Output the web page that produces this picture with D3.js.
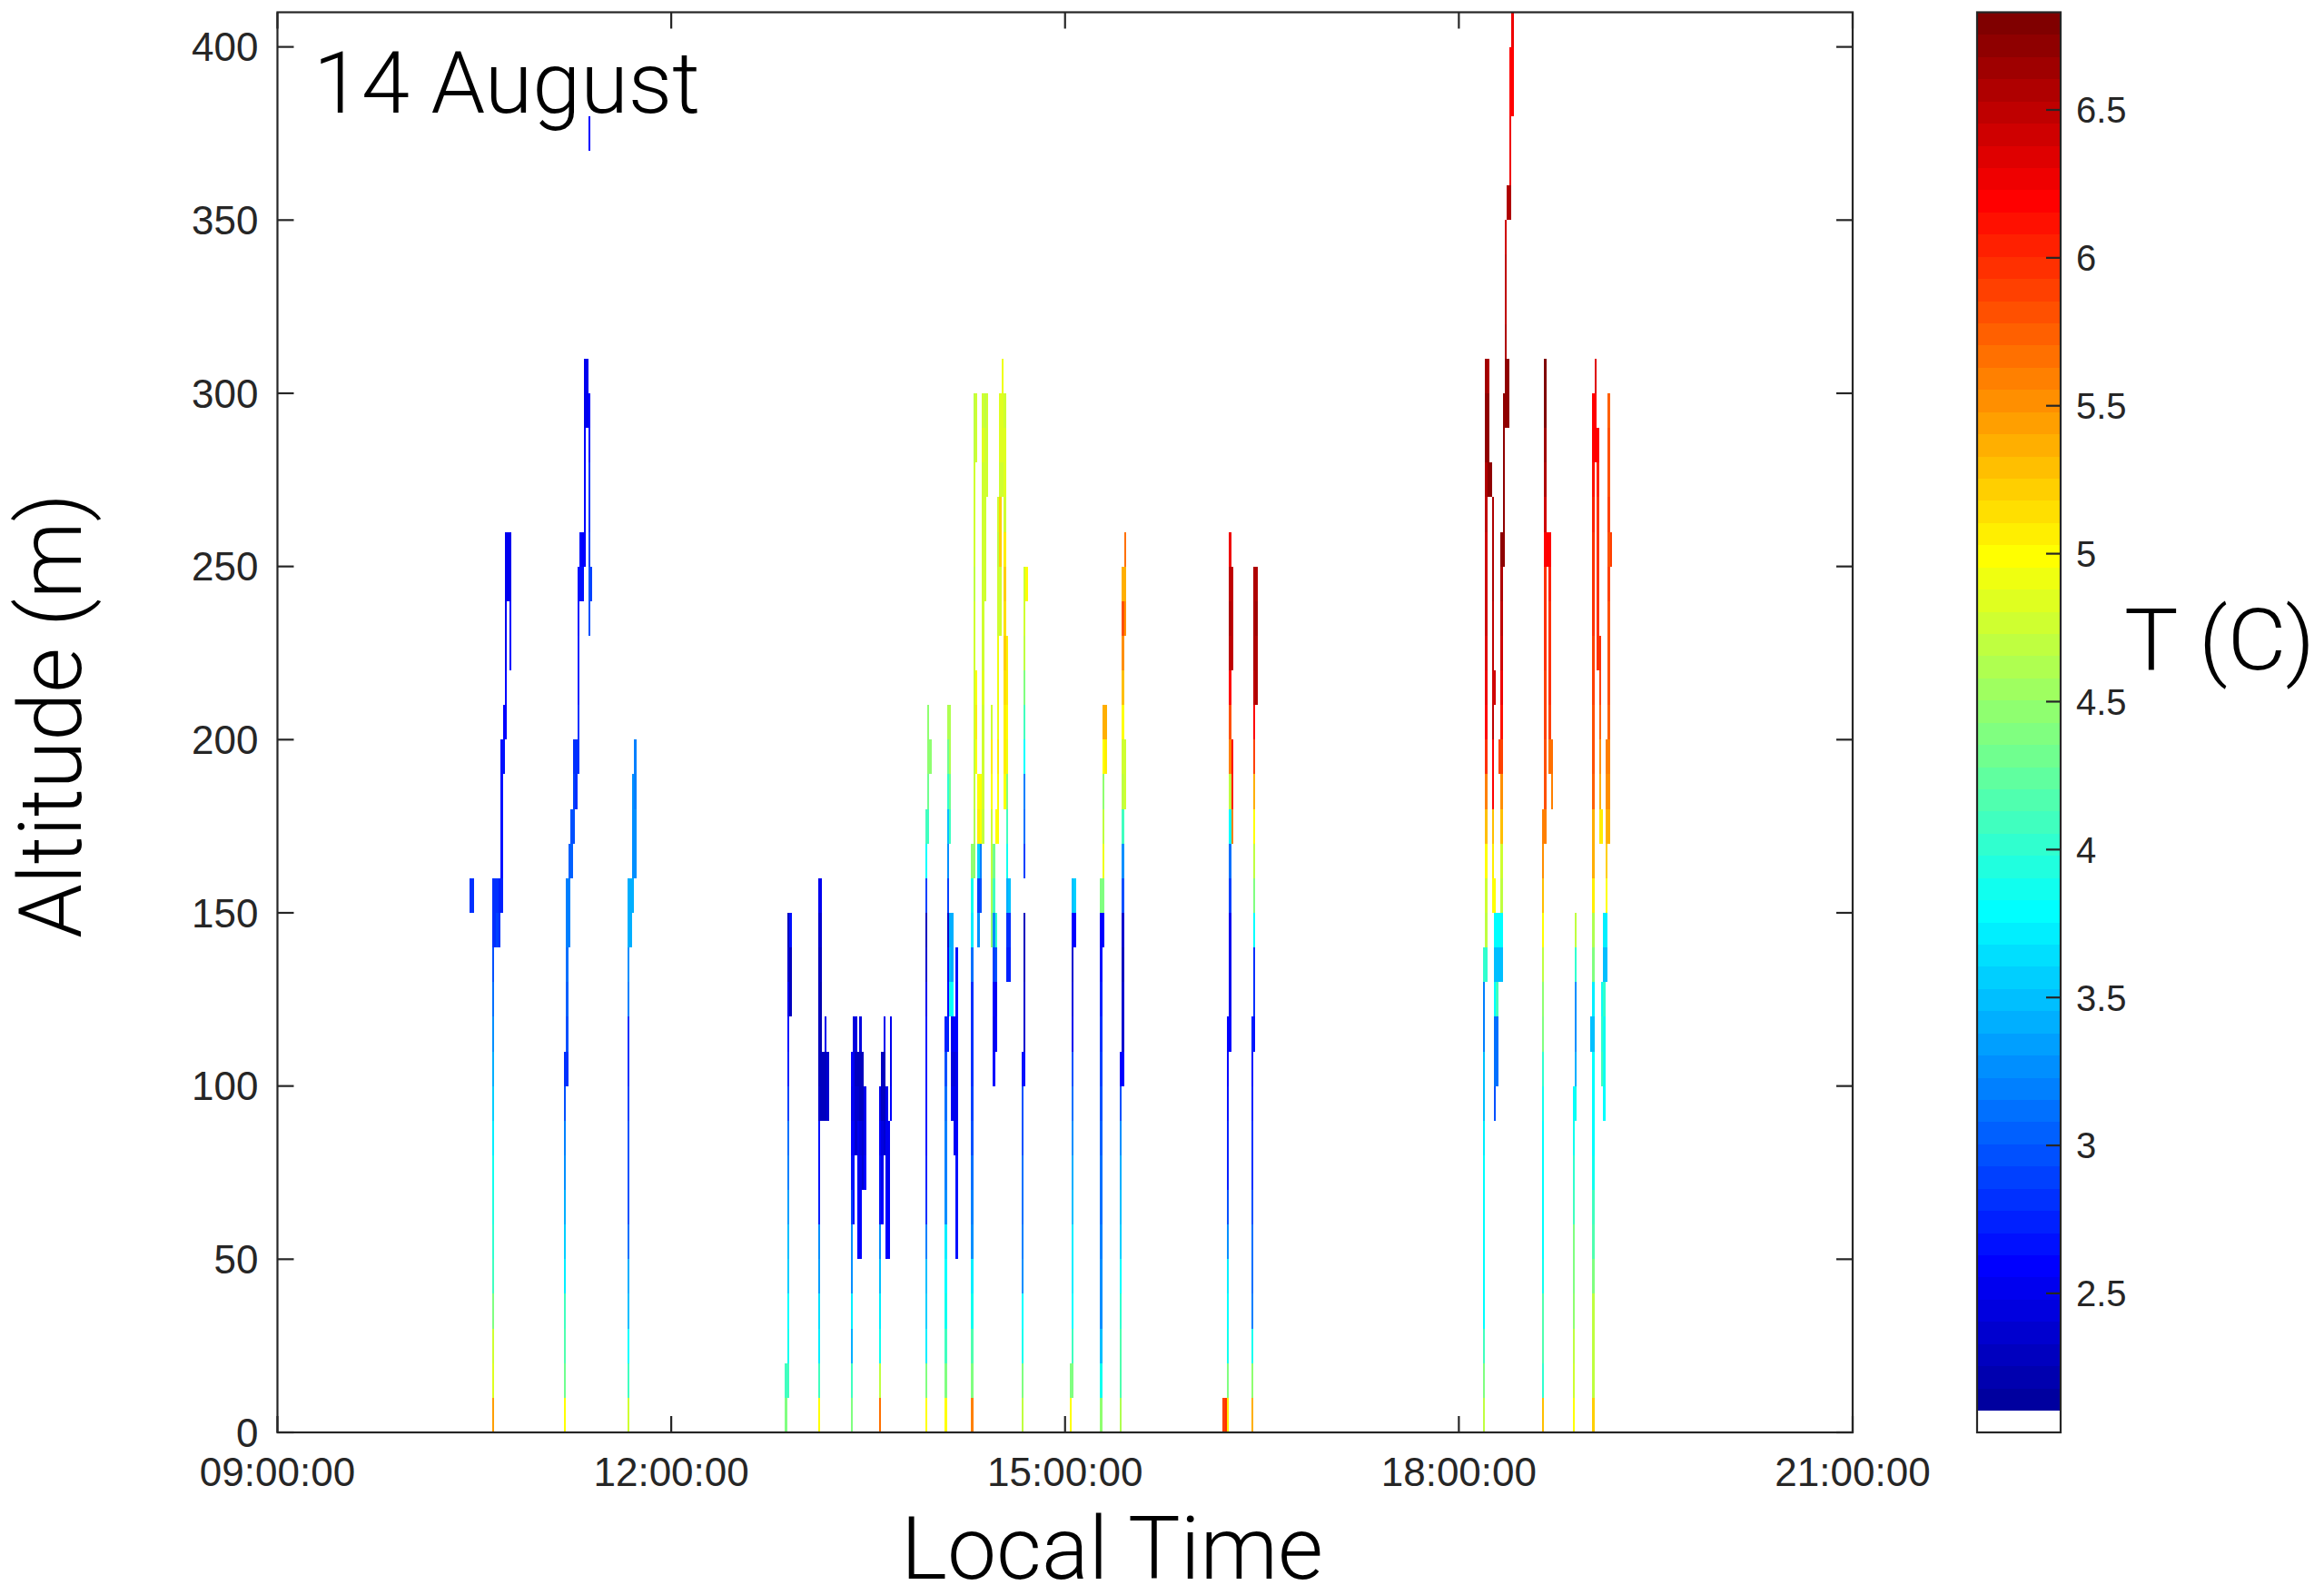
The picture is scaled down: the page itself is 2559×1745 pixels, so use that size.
<!DOCTYPE html>
<html><head><meta charset="utf-8">
<script src="https://cdn.jsdelivr.net/npm/d3@7"></script>
<style>body{margin:0;background:#fff}svg{display:block}</style>
</head><body>
<svg id="chart" width="2559" height="1745"></svg>
<script>
// ---------------- data ----------------
const dayLabel = "14 August";
const xLabel = "Local Time";
const yLabel = "Altitude (m)";
const cbLabel = "T (C)";
const xTicks = ["09:00", "12:00", "15:00", "18:00", "21:00"];
const yTicks = [0, 50, 100, 150, 200, 250, 300, 350, 400];
const cbTicks = [2.5, 3, 3.5, 4, 4.5, 5, 5.5, 6, 6.5];
const timeRange = ["09:00", "21:00"];
const altRange = [0, 410];
const tempRange = [2.03, 6.83];
const altStep = 10;      // altitude bin (m)
const timeStep = 1;      // time bin (min)

// each column: [time, bottom altitude of first bin, temperatures of consecutive 10 m bins]
const flight01 = [["10:28",150,[2.85]],["10:29",150,[2.85]]];
const flight02 = [
 ["10:38",0,[5.45,4.85,4.75,4.4,4.1,4.0,3.95,3.85,3.75,3.6,3.45,3.3,3.15,3.0,2.85,2.85]],
 ["10:39",140,[2.85,2.8]],["10:40",140,[2.9,2.8]],["10:41",140,[2.8,2.75]],
 ["10:42",150,[2.75,2.7,2.7,2.65,2.7]],["10:43",190,[2.65,2.6]],
 ["10:44",200,[2.6,2.6,2.55,2.55,2.55,2.5]],["10:45",240,[2.55,2.5]],
 ["10:46",220,[2.6,2.6,2.55,2.5]]];
const flight03 = [
 ["11:11",0,[5.0,4.3,4.2,4.1,3.7,3.6,3.4,3.3,3.2,3.0,2.8]],
 ["11:12",100,[2.8,2.95,3.05,3.1,3.2,3.2]],["11:13",140,[3.2,3.2,3.05]],
 ["11:14",160,[3.05,3.0]],["11:15",170,[3.0,2.9,2.85]],["11:16",180,[2.85,2.8]],
 ["11:17",190,[2.8,2.8,2.75,2.75,2.7,2.7]],["11:18",240,[2.7,2.65]],["11:19",240,[2.65,2.6]],
 ["11:20",250,[2.6,2.6,2.6,2.6,2.55,2.55]],["11:21",290,[2.55,2.5]],
 ["11:22",230,[3.0,2.95,2.9,2.85,2.8,2.7,2.6]],["11:22",370,[2.6]],["11:23",240,[2.9]]];
const flight04 = [
 ["11:40",0,[4.75,4.1,3.8,3.5,3.4,3.1,3.0,3.0,2.95,2.9,2.85,2.85,3.2,3.25,3.4,3.45]],
 ["11:41",140,[3.45,3.4]],["11:42",150,[3.4,3.3,3.3,3.25]],["11:43",160,[3.3,3.25,3.2,3.2]]];
const flight05 = [
 ["12:52",0,[4.4,4.1]],
 ["12:53",10,[4.1,3.85,3.8,3.6,3.5,3.35,3.2,3.1,2.9,2.75,2.65,2.55,2.4,2.3]],
 ["12:54",120,[2.3,2.3,2.7]]];
const flight06 = [
 ["13:07",0,[5.0,4.1,3.75,3.65,3.35,3.3,2.75,2.7,2.65,2.4,2.3,2.3,2.3,2.3,2.35,2.5]],
 ["13:08",90,[2.3,2.3,2.25,2.25,2.3,2.35,2.5]],["13:09",90,[2.3,2.3]],
 ["13:10",90,[2.3,2.3,2.5]],["13:11",90,[2.35,2.35]]];
const flight07 = [
 ["13:22",0,[4.4,4.1,3.4,3.75,3.3,3.25,2.9,2.7,2.6,2.55,2.6]],
 ["13:23",60,[2.7,2.65,2.6,2.55,2.5,2.45]],["13:24",80,[2.4,2.35,2.3,2.45]],
 ["13:25",50,[2.6,2.6,2.55,2.5,2.35,2.3]],["13:26",50,[2.6,2.6,2.55,2.45,2.3,2.3,2.45]],
 ["13:27",70,[2.4,2.35,2.3,2.3]],["13:28",70,[2.6,2.55,2.5]]];
const flight08 = [
 ["13:35",0,[5.7,4.7,3.85,3.7,3.5,3.3,2.7,2.65,2.6,2.55]],
 ["13:36",60,[2.6,2.55,2.45,2.3,2.3]],["13:37",80,[2.35,2.3,2.3,2.55]],
 ["13:38",50,[2.6,2.6,2.55,2.5,2.5]],["13:39",50,[2.6,2.6,2.55,2.5]],["13:40",90,[2.6,2.5,2.55]]];
const flight09 = [
 ["13:56",0,[5.0,4.4,3.7,3.6,3.5,3.2,2.8,2.75,2.7,2.7,2.7,2.65,2.5,2.35,2.3,2.9,3.8,4.1]],
 ["13:57",170,[4.1,4.3,4.5,4.45]],["13:58",190,[4.5]]];
const flight10 = [
 ["14:05",0,[5.0,4.4,4.1,3.9,3.8,3.7,3.3,3.2,3.2,3.1,3.0,2.75]],
 ["14:06",110,[2.75,2.6,2.5,2.35,2.9,3.3,3.5,4.0,4.3,4.6]],
 ["14:07",120,[3.9,3.5,3.4]],["14:07",170,[4.1,4.3,4.6,4.65]],
 ["14:08",90,[2.5,2.45,2.55,3.8,3.45,3.4]],["14:09",80,[2.55,2.5,2.45,2.6]],
 ["14:10",50,[2.7,2.65,2.65,2.6,2.55,2.55,2.6,2.6,2.65]]];
const flight11 = [
 ["14:17",0,[5.6,4.4,4.2,3.85,3.75,3.3,3.2,3.1,3.0,2.9,2.8,2.8,2.85,3.1,3.7,3.85,4.5]],
 ["14:18",160,[4.5,4.6,4.7,4.7,4.75,4.75,4.8,4.75,4.7,4.75,4.8,4.75,4.7,4.7]],
 ["14:19",190,[5.0,5.05,5.0]],["14:19",280,[4.75,4.75]],
 ["14:20",140,[3.3,2.9,3.6,5.05,5.0]],["14:21",150,[2.95,3.2,5.0,5.0]],
 ["14:22",170,[4.7,4.75,4.8,4.8,4.85,4.8,4.8,4.75,4.75,4.8,4.8,4.85,4.8]],
 ["14:23",240,[4.75,4.8,4.8,4.8,4.75,4.7]],["14:24",270,[4.8,4.8,4.75]]];
const flight12 = [
 ["14:26",140,[4.5,4.6,4.7,4.8,5.0,5.05,4.8]],
 ["14:27",100,[2.6,2.55,2.6,2.9,3.3,4.1,4.3]],
 ["14:28",110,[2.6,2.55,3.0,4.0]],["14:28",170,[5.0]],
 ["14:29",170,[5.0,5.0,5.05,4.95,4.9,4.9,4.8,4.75,4.7,4.75]],
 ["14:30",230,[4.75,4.8,5.2,5.25,4.8,4.85,4.85]],
 ["14:31",270,[4.8,4.85,4.85,4.9]],
 ["14:32",180,[5.0,5.05,5.1,5.15,5.2,5.15,5.2,5.1,4.8,4.85,4.85,4.8]],
 ["14:33",130,[2.75,2.8,3.4,3.9,4.1,4.4,4.9,5.0,5.05,5.1]],
 ["14:34",130,[2.75,2.8,3.5]]];
const flight13 = [
 ["14:40",0,[4.7,4.4,3.85,3.8,3.3,3.2,3.15,3.1,3.0,3.0,2.7]],
 ["14:41",100,[2.65,2.4,2.35,2.3,2.3]],["14:41",160,[2.9,3.1,3.2,3.8,4.1,4.4,4.7,4.75,4.8]],
 ["14:42",240,[5.0]]];
const flight14 = [
 ["15:02",0,[5.0,4.4]],
 ["15:03",10,[4.4,4.1,3.8,3.75,3.7,3.5,3.45,3.3,3.15,2.95,2.5,2.45,2.4,2.6,3.5]],
 ["15:04",140,[2.6,3.55]]];
const flight15 = [
 ["15:16",0,[4.5,3.85,3.5,3.3,3.25,3.2,3.15,3.1,3.05,3.0,2.9,2.8,2.75,2.7,2.6,4.4]],
 ["15:17",140,[2.6,4.4,4.9,4.7,4.5,5.0,5.35]],["15:18",190,[5.05,5.35]]];
const flight16 = [
 ["15:25",0,[4.6,4.2,4.15,4.0,3.8,3.6,3.5,3.45,3.3,2.95,2.6]],
 ["15:26",100,[2.6,2.4,2.35,2.3,2.35,3.0,3.3,4.1,4.7,4.75,5.0,5.3,5.55,5.85,5.4]],
 ["15:27",180,[4.75,4.75]],["15:27",230,[5.5,5.4,5.65]]];
const flight17 = [
 ["16:12",0,[5.9]],["16:13",0,[6.0]],
 ["16:14",0,[5.1,4.4,3.85,3.8,3.7,3.3,3.0,2.75,2.75,2.65,2.6,2.6]],
 ["16:15",110,[2.6,2.55,2.5,2.5,2.9,3.1,3.8,4.7,5.6,5.8,6.2,6.5,6.55,6.5,6.3]],
 ["16:16",170,[5.6,6.15,6.2]],["16:16",220,[6.5,6.5,6.5]]];
const flight18 = [
 ["16:25",0,[5.4,4.5,3.9,3.2,3.15,3.1,3.0,2.85,2.8,2.75,2.7,2.75]],
 ["16:26",110,[2.7,2.8,2.85,3.8,4.4,4.7,5.0,5.4,5.9,6.2,6.5,6.55,6.6,6.6]],
 ["16:27",210,[6.6,6.6,6.65,6.6]]];
const flight19 = [
 ["18:11",0,[4.7,4.4,4.1,3.8,3.8,3.8,3.8,3.8,3.7,3.5,3.5,3.2,3.2,4.05]],
 ["18:12",130,[4.05,4.7,4.75,5.0,5.3,5.6,6.0,6.2,6.3,6.35,6.4,6.4,6.45,6.5,6.6,6.7,6.7,6.65]],
 ["18:13",270,[6.7,6.7,6.7,6.6]],["18:14",270,[6.7]],
 ["18:15",150,[5.0,5.05,5.3,6.2,6.2,6.5,6.4,6.5,6.5,6.55,6.6,6.6]],
 ["18:16",90,[3.0,3.1,3.1,3.8,3.5,3.8,5.0]],["18:16",210,[6.4]],
 ["18:17",100,[3.1,3.1,4.1,3.5,3.8]]];
const flight20 = [
 ["18:18",130,[3.5,3.8]],["18:18",190,[5.9]],
 ["18:19",130,[3.5,3.8,4.7,4.75,5.3,5.5,5.9,6.1,6.3,6.4,6.5,6.6,6.75]],
 ["18:20",250,[6.75,6.7,6.7,6.7,6.7]],
 ["18:21",290,[6.7,6.7,6.6,6.5,6.5,6.4]],
 ["18:22",290,[6.7,6.7]],["18:22",350,[6.6]],
 ["18:23",350,[6.6,6.3,6.25,6.2,6.2]],["18:24",380,[6.2,6.2,6.25]]];
const flight21 = [
 ["18:38",0,[5.3,4.0,4.2,4.2,3.85,3.8,3.8,3.8,3.8,3.85,4.0,4.4,4.5,4.7,5.0,5.3,5.5,5.6]],
 ["18:39",170,[5.6,5.8,5.85,5.9,5.9,5.95,6.0,6.0,6.2,6.4,6.55,6.65,6.8,6.8]],
 ["18:40",250,[6.2]],["18:41",190,[5.65,5.9,5.95,6.0,6.0,6.05,6.2]],["18:42",180,[5.6,5.65]]];
const flight22 = [
 ["18:52",0,[5.0,4.75,4.7,4.45,4.4,4.4,4.1,4.0,3.85,3.8]],
 ["18:53",90,[3.85,3.4,3.3,3.3,4.0,4.7]]];
const flight23 = [
 ["19:00",110,[3.5]],
 ["19:01",0,[5.2,4.7,4.7,4.7,4.4,4.2,4.1,3.9,3.8,3.8,3.8,3.5,3.75,4.4,4.6,5.05,5.4,5.35,5.75,5.8,5.85,5.9,5.9,5.95,5.95,6.0,6.05,6.1,6.2,6.2]],
 ["19:02",280,[6.2,6.2,6.35]],["19:03",220,[6.0,6.0,6.0,6.0,6.0,6.05,6.2]],
 ["19:04",170,[5.05,5.4,5.55,5.75,5.9,6.0]],["19:05",170,[5.05]]];
const flight24 = [
 ["19:05",100,[4.1,4.0,3.9]],["19:06",90,[3.8,3.9,3.85,4.0,3.5,3.7]],
 ["19:07",130,[3.5,3.7,5.0,5.2,5.4,5.5,5.6]],
 ["19:08",170,[5.4,5.5,5.6,5.75,5.85,5.85,5.85,5.9,5.85,5.9,5.85,5.8,5.75]],
 ["19:09",250,[5.9]]];

const flights = [flight01,flight02,flight03,flight04,flight05,flight06,flight07,flight08,
  flight09,flight10,flight11,flight12,flight13,flight14,flight15,flight16,flight17,flight18,
  flight19,flight20,flight21,flight22,flight23,flight24];

// ---------------- layout ----------------
const frame = {left: 305.5, right: 2040, top: 13.5, bottom: 1577};
const cbar = {left: 2177, right: 2269};
const axisColor = "#262626";
const tickLen = 18;
const tickFont = "'Liberation Sans', Arial, Helvetica, sans-serif";
const lightFont = "'Roboto', 'Open Sans', 'Liberation Sans', sans-serif";

// MATLAB jet colormap with first level white
function jetMap(m) {
  const n = Math.ceil(m / 4), u = [];
  for (let i = 1; i <= n; i++) u.push(i / n);
  for (let i = 0; i < n - 1; i++) u.push(1);
  for (let i = n; i >= 1; i--) u.push(i / n);
  const g0 = Math.ceil(n / 2) - (m % 4 === 1 ? 1 : 0);
  const rows = Array.from({length: m}, () => [0, 0, 0]);
  u.forEach((v, k) => {
    const gi = g0 + k + 1, ri = gi + n, bi = gi - n;
    if (gi >= 1 && gi <= m) rows[gi - 1][1] = v;
    if (ri >= 1 && ri <= m) rows[ri - 1][0] = v;
    if (bi >= 1 && bi <= m) rows[bi - 1][2] = v;
  });
  return rows.map(c => d3.rgb(c[0] * 255, c[1] * 255, c[2] * 255).formatHex());
}
const nLevels = 64;
const palette = jetMap(nLevels);
palette[0] = "#ffffff";
const colorScale = d3.scaleQuantize().domain(tempRange).range(palette);

const svg = d3.select("#chart");
const parseT = d3.timeParse("%H:%M");
const x = d3.scaleTime().domain(timeRange.map(parseT)).range([frame.left, frame.right]);
const y = d3.scaleLinear().domain(altRange).range([frame.bottom, frame.top]);
const yc = d3.scaleLinear().domain(tempRange).range([frame.bottom, frame.top]);

// cells
const cells = [];
flights.forEach(fl => fl.forEach(([t, a0, temps]) => {
  const t0 = parseT(t), t1 = d3.timeMinute.offset(t0, timeStep);
  temps.forEach((v, i) => cells.push({t0, t1, a: a0 + i * altStep, v}));
}));
svg.append("g").selectAll("rect").data(cells).join("rect")
  .attr("x", d => x(d.t0)).attr("width", d => x(d.t1) - x(d.t0))
  .attr("y", d => y(d.a + altStep)).attr("height", d => y(d.a) - y(d.a + altStep))
  .attr("fill", d => colorScale(d.v)).attr("shape-rendering", "crispEdges");

// axes frame & ticks
const ax = svg.append("g").attr("stroke", axisColor).attr("stroke-width", 2.2).attr("fill", "none");
ax.append("rect").attr("x", frame.left).attr("y", frame.top)
  .attr("width", frame.right - frame.left).attr("height", frame.bottom - frame.top);
yTicks.forEach(v => {
  ax.append("line").attr("x1", frame.left).attr("x2", frame.left + tickLen).attr("y1", y(v)).attr("y2", y(v));
  ax.append("line").attr("x1", frame.right).attr("x2", frame.right - tickLen).attr("y1", y(v)).attr("y2", y(v));
});
xTicks.forEach(t => {
  const xv = x(parseT(t));
  ax.append("line").attr("x1", xv).attr("x2", xv).attr("y1", frame.bottom).attr("y2", frame.bottom - tickLen);
  ax.append("line").attr("x1", xv).attr("x2", xv).attr("y1", frame.top).attr("y2", frame.top + tickLen);
});

const labels = svg.append("g").attr("fill", axisColor).attr("font-family", tickFont).attr("font-size", 44);
labels.selectAll("text.yt").data(yTicks).join("text").attr("class", "yt")
  .attr("x", frame.left - 21).attr("y", d => y(d)).attr("dy", "0.36em")
  .attr("text-anchor", "end").text(d => d);
const fmt = d3.timeFormat("%H:%M:%S");
labels.selectAll("text.xt").data(xTicks).join("text").attr("class", "xt")
  .attr("x", d => x(parseT(d))).attr("y", 1636)
  .attr("text-anchor", "middle").text(d => fmt(parseT(d)));

// colorbar
const step = (tempRange[1] - tempRange[0]) / nLevels;
svg.append("g").selectAll("rect").data(palette).join("rect")
  .attr("x", cbar.left).attr("width", cbar.right - cbar.left)
  .attr("y", (d, i) => yc(tempRange[0] + (i + 1) * step))
  .attr("height", yc(tempRange[0]) - yc(tempRange[0] + step) + 0.5)
  .attr("fill", d => d).attr("shape-rendering", "crispEdges");
const cbg = svg.append("g").attr("stroke", axisColor).attr("stroke-width", 2.2).attr("fill", "none");
cbg.append("rect").attr("x", cbar.left).attr("y", frame.top)
  .attr("width", cbar.right - cbar.left).attr("height", frame.bottom - frame.top);
cbTicks.forEach(v => cbg.append("line").attr("x1", cbar.right).attr("x2", cbar.right - 16)
  .attr("y1", yc(v)).attr("y2", yc(v)));
svg.append("g").attr("fill", axisColor).attr("font-family", tickFont).attr("font-size", 40)
  .selectAll("text").data(cbTicks).join("text")
  .attr("x", 2286).attr("y", d => yc(d)).attr("dy", "0.36em").text(d => d);

// titles
svg.append("text").attr("x", 345).attr("y", 124).attr("font-family", lightFont).attr("font-weight", 300)
  .attr("font-size", 95).attr("fill", "#000").attr("textLength", 426).attr("lengthAdjust", "spacingAndGlyphs")
  .text(dayLabel);
svg.append("text").attr("x", 992).attr("y", 1738).attr("font-family", lightFont).attr("font-weight", 300)
  .attr("font-size", 97).attr("fill", "#000").attr("textLength", 465).attr("lengthAdjust", "spacingAndGlyphs")
  .text(xLabel);
svg.append("text").attr("transform", "translate(89,1033) rotate(-90)").attr("font-family", lightFont)
  .attr("font-weight", 300).attr("font-size", 97).attr("fill", "#000")
  .attr("textLength", 490).attr("lengthAdjust", "spacingAndGlyphs").text(yLabel);
svg.append("text").attr("x", 2339).attr("y", 737).attr("font-family", lightFont).attr("font-weight", 300)
  .attr("font-size", 95).attr("fill", "#000").attr("textLength", 210).attr("lengthAdjust", "spacingAndGlyphs")
  .text(cbLabel);
</script>
</body></html>
